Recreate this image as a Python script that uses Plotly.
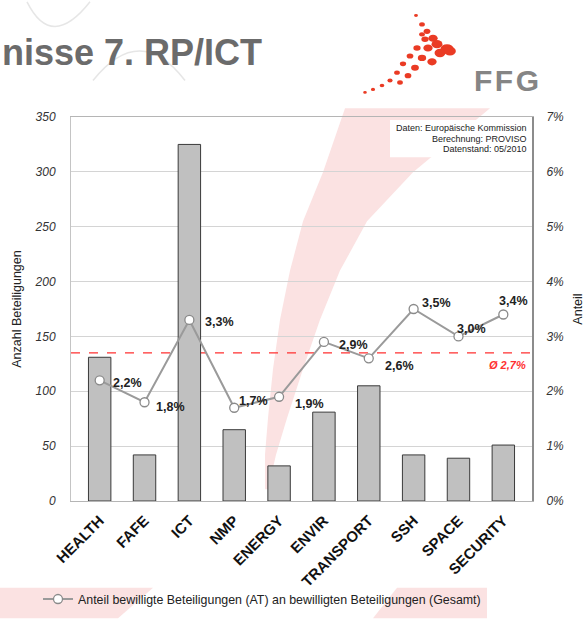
import plotly.graph_objects as go

# data
categories = ["HEALTH", "FAFE", "ICT", "NMP", "ENERGY", "ENVIR", "TRANSPORT", "SSH", "SPACE", "SECURITY"]
beteiligungen = [131, 42, 325, 65, 32, 81, 105, 42, 39, 51]
anteil = [2.2, 1.8, 3.3, 1.7, 1.9, 2.9, 2.6, 3.5, 3.0, 3.4]
avg_anteil = 2.7
source_lines = ["Daten: Europäische Kommission", "Berechnung: PROVISO", "Datenstand: 05/2010"]

# label offsets (px) from each marker, left edge of text
label_dx = [11, 9, 14, 3, 14, 13, 14, 6, -3, -6]
label_dy = [-3, -5, -2, 7, -7, -3, -8, 6, 7, 13]

# plot area in pixels
L, R, T, B = 71, 532, 117, 507
W, H = R - L, B - T
FONT = "Arial, Liberation Sans"


def px(x):
    return (x - L) / W


def py(y):
    return (B - y) / H


def fmt(v):
    return f"{v:.1f}".replace(".", ",") + "%"


def poly_path(pts):
    return "M " + " L ".join(f"{px(a):.4f},{py(b):.4f}" for a, b in pts) + " Z"


fig = go.Figure()

fig.add_trace(go.Bar(
    x=categories, y=beteiligungen,
    marker=dict(color="#c0c0c0", line=dict(color="#3a3a3a", width=1)),
    width=0.5, showlegend=False, hoverinfo="skip"
))

fig.add_trace(go.Scatter(
    x=categories, y=anteil, yaxis="y2",
    mode="lines+markers",
    name="Anteil bewilligte Beteiligungen (AT) an bewilligten Beteiligungen (Gesamt)",
    line=dict(color="#9a9a9a", width=2),
    marker=dict(size=9, color="white", line=dict(color="#8a8a8a", width=1.3)),
))

shapes = []
# background swoosh (slide decoration)
sw_right = [(490, 108), (413, 173), (367, 223), (340, 273), (320, 323), (303, 373), (287, 423), (276, 460), (268, 495)]
sw_left = [(265, 495), (265, 460), (268, 423), (273, 373), (280, 323), (290, 273), (303, 223), (323, 173), (345, 108)]
shapes.append(dict(type="path", xref="paper", yref="paper", path=poly_path(sw_right + sw_left),
                   fillcolor="#fbe2e2", line=dict(width=0), layer="below"))
# white box behind the source note
shapes.append(dict(type="rect", xref="paper", yref="paper", x0=px(390), x1=px(531), y0=py(158), y1=py(120),
                   fillcolor="white", line=dict(width=0), layer="below"))
# bottom pink bands
for poly in ([(0, 595), (153, 595), (118, 626), (0, 626)],
             [(397, 595), (487, 595), (487, 626), (373, 626)]):
    shapes.append(dict(type="path", xref="paper", yref="paper", path=poly_path(poly),
                       fillcolor="#fbe2e2", line=dict(width=0), layer="below"))
# faint arcs top-left
for (x0, y0), (cx, cy), (x1, y1) in [((27, 0), (51.5, 50), (90, 0)), ((93, 80), (140, 20), (185, 80))]:
    shapes.append(dict(type="path", xref="paper", yref="paper",
                       path=f"M {px(x0):.4f},{py(y0):.4f} Q {px(cx):.4f},{py(cy):.4f} {px(x1):.4f},{py(y1):.4f}",
                       line=dict(color="#e6e6e6", width=1.5), layer="below"))

# average line
shapes.append(dict(type="line", xref="paper", yref="y2", x0=0, x1=1, y0=avg_anteil, y1=avg_anteil,
                   line=dict(color="#ff3030", width=1.2, dash="dash"), layer="below"))

# FFG logo dots
logo_dots = [(416, 14, 1.5), (422, 23, 2.2), (427, 30, 2.6), (422, 33, 2.2), (433, 37, 3.6),
             (425, 38, 2.8), (437, 43, 4.2), (447, 48, 5.0), (417, 47, 2.8), (428, 47, 3.6),
             (440, 52, 4.2), (450, 50, 4.5), (410, 55, 2.6), (422, 57, 3.2), (432, 61, 3.6),
             (403, 63, 2.4), (415, 67, 3.0), (397, 72, 2.2), (408, 75, 2.6), (390, 80, 2.0),
             (400, 82, 2.2), (382, 85, 1.8), (373, 89, 1.6), (365, 92, 1.4)]
for cx, cy, r in logo_dots:
    shapes.append(dict(type="circle", xref="paper", yref="paper",
                       x0=px(cx - r * 1.3), x1=px(cx + r * 1.3), y0=py(cy + r), y1=py(cy - r),
                       fillcolor="#ea3b24", line=dict(width=0), layer="above"))

annotations = [
    dict(text="nisse 7. RP/ICT", xref="paper", yref="paper", x=px(0), y=py(51),
         xanchor="left", yanchor="middle", showarrow=False,
         font=dict(family=FONT, size=36, color="#6b6b6b", weight="bold")),
    dict(text="F\u200aF\u200aG", xref="paper", yref="paper", x=px(506), y=py(80),
         xanchor="center", yanchor="middle", showarrow=False,
         font=dict(family=FONT, size=30, color="#858585", weight="bold")),
    dict(text="Ø " + fmt(avg_anteil), xref="paper", yref="y2", x=px(528), y=avg_anteil,
         xanchor="right", yanchor="top", yshift=-4, showarrow=False,
         font=dict(family=FONT, size=11, color="#ff3030", weight="bold", style="italic")),
]

# source note, one line each
for i, line in enumerate(source_lines):
    annotations.append(dict(text=line, xref="paper", yref="paper", x=px(529), y=py(128 + 11 * i),
                            xanchor="right", yanchor="middle", showarrow=False,
                            font=dict(family=FONT, size=9, color="#222222")))

# data labels of the line
for cat, v, dx, dy in zip(categories, anteil, label_dx, label_dy):
    annotations.append(dict(text=fmt(v), x=cat, y=v, xref="x", yref="y2",
                            xanchor="left", yanchor="middle", xshift=dx, yshift=dy, showarrow=False,
                            font=dict(family=FONT, size=12.5, color="#222222", weight="bold")))

tickfont = dict(family=FONT, size=12, color="#333333", style="italic")

fig.update_layout(
    width=586, height=626,
    margin=dict(l=L, r=586 - R, t=T, b=626 - B),
    paper_bgcolor="white", plot_bgcolor="rgba(0,0,0,0)",
    font=dict(family=FONT, color="#222222"),
    xaxis=dict(showgrid=False, showline=True, linecolor="#b5b5b5", linewidth=1, mirror=True,
               tickangle=-45, ticks="", automargin=False, ticklabelstandoff=4,
               tickfont=dict(family=FONT, size=15, color="#111111", weight="bold")),
    yaxis=dict(range=[0, 350], dtick=50, showgrid=True, gridcolor="#d4d4d4", gridwidth=1,
               showline=True, linecolor="#c4c4c4", zeroline=False, ticks="", automargin=False,
               tickfont=tickfont, ticklabelstandoff=12,
               title=dict(text="Anzahl Beteiligungen", standoff=10,
                          font=dict(family=FONT, size=12.5, color="#222222"))),
    yaxis2=dict(range=[0, 7], dtick=1, overlaying="y", side="right", showgrid=False,
                showline=True, linecolor="#8c8c8c", linewidth=2, zeroline=False, ticks="", automargin=False,
                ticksuffix="%", tickfont=tickfont, ticklabelstandoff=10,
                title=dict(text="Anteil", standoff=10,
                           font=dict(family=FONT, size=12.5, color="#222222"))),
    legend=dict(orientation="h", x=px(38), y=py(607), xanchor="left", yanchor="middle",
                bgcolor="rgba(0,0,0,0)", itemwidth=30,
                font=dict(family=FONT, size=12.4, color="#222222")),
    shapes=shapes,
    annotations=annotations,
)

# the page's default body margin would push the figure 8px right and down
fig.write_html("out.html", config={"displayModeBar": False},
               post_script="document.body.style.margin = '0';")
